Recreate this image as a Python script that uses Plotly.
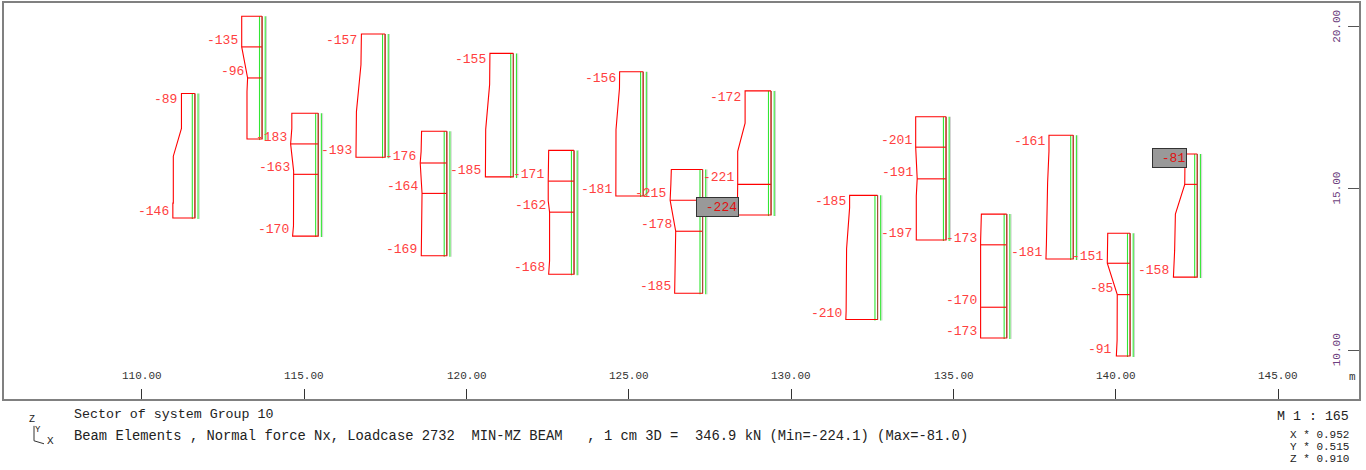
import numpy as np
import plotly.graph_objects as go

# ---------------- data ----------------
# column (beam) axis positions along X [m]
col_x = [111.63, 113.70, 115.43, 117.49, 119.39, 121.44, 123.31, 125.44,
         127.27, 129.38, 132.66, 134.77, 136.64, 138.69, 140.44, 142.51]

# elevation of diagram points along each column [m] (top -> bottom)
prof_z = [
    [17.94, 16.86, 16.00, 14.55, 14.55, 14.09],
    [20.33, 19.38, 18.77, 18.42, 18.00, 16.53],
    [17.33, 16.86, 16.38, 15.54, 13.85, 13.53],
    [19.78, 18.83, 17.38, 15.97],
    [16.77, 16.15, 15.79, 14.85, 13.38, 12.92],
    [19.18, 18.22, 16.83, 15.36],
    [16.18, 15.23, 14.62, 14.27, 12.77, 12.35],
    [18.61, 18.10, 17.38, 16.82, 14.77],
    [15.59, 15.14, 14.64, 13.68, 11.76],
    [18.02, 17.02, 16.15, 15.13, 14.18],
    [14.79, 14.41, 13.14, 11.23, 10.95],
    [17.22, 16.28, 16.00, 15.30, 14.77, 13.41],
    [14.21, 13.38, 13.26, 11.33, 10.38],
    [16.65, 16.15, 15.18, 13.28, 12.82],
    [13.62, 12.69, 11.72, 10.31, 9.82],
    [16.07, 15.13, 14.21, 13.08, 12.26],
]
# normal force magnitude Nx at those points [kN] (compression)
prof_n = [
    [89, 89, 143, 143, 146, 146],
    [135, 135, 112, 96, 100, 100],
    [175, 175, 183, 163, 164, 170],
    [157, 160, 190, 193],
    [167, 170, 176, 164, 166, 169],
    [155, 157, 183, 185],
    [168, 171, 171, 162, 162, 168],
    [156, 157, 170, 180, 181],
    [207, 210, 215, 178, 185],
    [172, 172, 221, 221, 224],
    [185, 185, 205, 208, 210],
    [201, 201, 198, 191, 197, 197],
    [168, 173, 173, 170, 173],
    [161, 161, 170, 178, 181],
    [148, 151, 85, 86, 91],
    [81, 83, 145, 150, 158],
]
# element boundaries inside each column [m]
bnd_z = [[], [19.38, 18.42], [16.38, 15.44], [], [15.79, 14.85], [],
         [15.23, 14.27], [], [14.64, 13.68], [15.13], [], [16.28, 15.30],
         [13.26, 11.33], [], [12.69, 11.72], [15.13]]
# value labels: elevation of the node and text
lab_z = [[17.94, 14.09], [19.38, 18.42], [16.38, 15.44, 13.53], [19.78, 15.97],
         [15.79, 14.85, 12.92], [19.18, 15.36], [15.23, 14.27, 12.35],
         [18.61, 14.77], [14.64, 13.68, 11.76], [18.02, 15.13, 14.18],
         [14.79, 10.95], [16.28, 15.30, 13.41], [13.26, 11.33, 10.38],
         [16.65, 12.82], [12.69, 11.72, 9.82], [16.07, 12.26]]
lab_t = [["-89", "-146"], ["-135", "-96"], ["-183", "-163", "-170"], ["-157", "-193"],
         ["-176", "-164", "-169"], ["-155", "-185"], ["-171", "-162", "-168"],
         ["-156", "-181"], ["-215", "-178", "-185"], ["-172", "-221", "-224"],
         ["-185", "-210"], ["-201", "-191", "-197"], ["-173", "-170", "-173"],
         ["-161", "-181"], ["-151", "-85", "-91"], ["-81", "-158"]]

x_ticks = [110, 115, 120, 125, 130, 135, 140, 145]
y_ticks = [10, 15, 20]

# ---------------- styling ----------------
SCALE = 0.151 / 32.46          # m of drawing per kN
G_L, G_R, G_G = 0.08, 0.096, 0.135
RED = "#ff0000"
LAB = "#ff4040"
MONO = "Liberation Mono, Courier New, monospace"
W, H = 1366, 470
ML, MR, MT, MB = 4, 7, 1, 71
PW, PH = W - ML - MR, H - MT - MB
XR = [105.749, 147.492]
YR = [8.492, 20.738]


def px(xp):
    return (xp - ML) / PW


def py(yp):
    return (H - MB - yp) / PH


fig = go.Figure()

gx, gy, gg_x, gg_y, bx, by, rx, ry = [], [], [], [], [], [], [], []
for i, x0 in enumerate(col_x):
    zt, zb = prof_z[i][0], prof_z[i][-1]
    for off in (-G_L, G_R):
        gx += [x0 + off, x0 + off, None]
        gy += [zt, zb - 0.03, None]
    gg_x += [x0 + G_G, x0 + G_G, None]
    gg_y += [zt, zb - 0.03, None]
    bx += [x0, x0, None]
    by += [zt, zb, None]
    edge = [x0 - n * SCALE for n in prof_n[i]]
    rx += [x0] + edge + [x0, x0, None]
    ry += [zt] + prof_z[i] + [zb, zt, None]
    zs, ns = prof_z[i][::-1], prof_n[i][::-1]
    for zb_ in bnd_z[i]:
        n = np.interp(zb_, zs, ns)
        rx += [x0 - n * SCALE, x0, None]
        ry += [zb_, zb_, None]

fig.add_trace(go.Scatter(x=gg_x, y=gg_y, mode="lines", line=dict(color="#d0d0d0", width=1), hoverinfo="skip"))
fig.add_trace(go.Scatter(x=gx, y=gy, mode="lines", line=dict(color="#33e633", width=1.1), hoverinfo="skip"))
fig.add_trace(go.Scatter(x=rx, y=ry, mode="lines", line=dict(color=RED, width=1.1), hoverinfo="skip"))
fig.add_trace(go.Scatter(x=bx, y=by, mode="lines", line=dict(color="#a0503c", width=1.1), hoverinfo="skip"))

vals = [float(t) for ts in lab_t for t in ts]
vmin, vmax = min(vals), max(vals)

ann = []
for i, x0 in enumerate(col_x):
    zs, ns = prof_z[i][::-1], prof_n[i][::-1]
    for z, t in zip(lab_z[i], lab_t[i]):
        n = np.interp(z, zs, ns)
        xe = x0 - n * SCALE
        top = abs(z - prof_z[i][0]) < 1e-6
        ys = -6.5 if top else 6.5
        if float(t) in (vmin, vmax):
            ann.append(dict(x=xe, y=z, xref="x", yref="y", text=t, showarrow=False,
                            xanchor="right", yanchor="middle", xshift=1.5, yshift=ys + 2,
                            width=7.8 * len(t) + 8, height=16, align="right",
                            bgcolor="#999999", bordercolor="#333333", borderwidth=1, borderpad=1,
                            font=dict(family=MONO, size=13, color="#e01010")))
        else:
            ann.append(dict(x=xe, y=z, xref="x", yref="y", text=t, showarrow=False,
                            xanchor="right", yanchor="middle", xshift=-2, yshift=ys,
                            font=dict(family=MONO, size=13, color=LAB)))

for v in x_ticks:
    ann.append(dict(x=v, y=py(376), xref="x", yref="paper", text=f"{v:.2f}", showarrow=False,
                    xanchor="center", yanchor="middle", font=dict(family=MONO, size=11, color="#333333")))
for v in y_ticks:
    ann.append(dict(x=px(1337), y=v, xref="paper", yref="y", text=f"{v:.2f}", showarrow=False,
                    textangle=-90, xanchor="center", yanchor="middle",
                    font=dict(family=MONO, size=11, color="#6e3f80")))
ann.append(dict(x=px(1352), y=py(377), xref="paper", yref="paper", text="m", showarrow=False,
                xanchor="center", yanchor="middle", font=dict(family=MONO, size=11, color="#333333")))

txt = dict(family=MONO, size=13.3, color="#222222")
txt2 = dict(family=MONO, size=13.8, color="#222222")
line2 = "Beam Elements , Normal force Nx, Loadcase 2732  MIN-MZ BEAM   , 1 cm 3D =  346.9 kN (Min=-224.1) (Max=-81.0)"
ann.append(dict(x=px(72), y=py(415), xref="paper", yref="paper", text="Sector of system Group 10",
                showarrow=False, xanchor="left", yanchor="middle", font=txt))
ann.append(dict(x=px(72), y=py(437), xref="paper", yref="paper",
                text=line2.replace(" ", "\u00a0"),
                showarrow=False, xanchor="left", yanchor="middle", font=txt2))
ann.append(dict(x=px(1351), y=py(417), xref="paper", yref="paper", text="M 1 : 165",
                showarrow=False, xanchor="right", yanchor="middle", font=txt))
small = dict(family=MONO, size=11, color="#222222")
for k, s in enumerate(["X * 0.952", "Y * 0.515", "Z * 0.910"]):
    ann.append(dict(x=px(1351), y=py(435 + 12 * k), xref="paper", yref="paper", text=s,
                    showarrow=False, xanchor="right", yanchor="middle", font=small))
for s, xp, yp, fs in [("Z", 32, 420, 10), ("Y", 38, 430, 9), ("X", 50, 441, 11)]:
    ann.append(dict(x=px(xp), y=py(yp), xref="paper", yref="paper", text=s, showarrow=False,
                    xanchor="center", yanchor="middle", font=dict(family=MONO, size=fs, color="#222222")))

shapes = [
    dict(type="line", xref="paper", yref="paper", x0=px(34), y0=py(426), x1=px(34), y1=py(441),
         line=dict(color="#333333", width=1)),
    dict(type="line", xref="paper", yref="paper", x0=px(34), y0=py(441), x1=px(44), y1=py(444),
         line=dict(color="#333333", width=1)),
]

fig.update_layout(
    width=W, height=H, margin=dict(l=ML, r=MR, t=MT, b=MB),
    paper_bgcolor="white", plot_bgcolor="white", showlegend=False,
    annotations=ann, shapes=shapes,
    xaxis=dict(range=XR, tickvals=x_ticks, showticklabels=False, ticks="inside", ticklen=10,
               tickcolor="#333333", tickwidth=1, showgrid=False, zeroline=False,
               showline=True, linecolor="#808080", linewidth=2, mirror=True),
    yaxis=dict(range=YR, tickvals=y_ticks, showticklabels=False, ticks="inside", ticklen=11,
               tickcolor="#555555", tickwidth=1, side="right", showgrid=False, zeroline=False,
               showline=True, linecolor="#808080", linewidth=2, mirror=True),
)

fig.write_html("out.html", config={"displayModeBar": False},
               post_script="document.body.style.margin='0px';document.body.style.overflow='hidden';")
